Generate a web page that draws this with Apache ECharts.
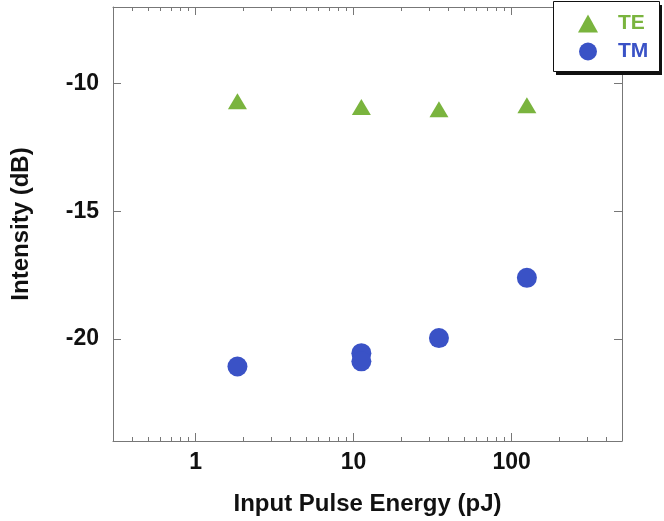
<!DOCTYPE html>
<html>
<head>
<meta charset="utf-8">
<script src="https://cdn.jsdelivr.net/npm/echarts@6/dist/echarts.min.js"></script>
<style>
  html, body { margin: 0; padding: 0; background: #fff; }
  #chart { width: 664px; height: 521px; }
</style>
</head>
<body>
<div id="chart"></div>
<script>
// 数据：输入脉冲能量 (pJ) 与强度 (dB)
var teEnergy = [1.84, 11.2, 34.7, 125];
var teIntensity = [-10.69, -10.92, -11.01, -10.85];
var tmEnergy = [1.84, 11.2, 11.2, 34.7, 125];
var tmIntensity = [-21.08, -20.56, -20.88, -19.97, -17.61];

// 刻度
var xMajor = [1, 10, 100];
var xMinor = [0.4, 0.5, 0.6, 0.7, 0.8, 0.9, 2, 3, 4, 5, 6, 7, 8, 9,
              20, 30, 40, 50, 60, 70, 80, 90, 200, 300, 400];
var yMajor = [-10, -15, -20];

var green = '#7ab43e';
var blue = '#3a52c6';
var lineColor = '#777';
var fontFamily = '"Liberation Sans", Arial, sans-serif';

function pairs(xs, ys) {
  var out = [];
  for (var i = 0; i < xs.length; i++) out.push([xs[i], ys[i]]);
  return out;
}

// 隐藏标签的辅助坐标轴（用于上边框、次刻度）
function tickAxis(position, values, len, showLine) {
  return {
    type: 'log', logBase: 10, min: 0.3, max: 500, position: position,
    axisLine: { show: showLine, lineStyle: { color: lineColor, width: 1 } },
    axisTick: { show: true, inside: true, length: len, customValues: values,
                lineStyle: { color: lineColor, width: 1 } },
    axisLabel: { show: false },
    splitLine: { show: false }
  };
}

var option = {
  backgroundColor: '#fff',
  animation: false,
  grid: { left: 113, right: 42, top: 7, bottom: 79 },
  // 图例的外框和阴影
  graphic: [
    { type: 'rect', z: 3, shape: { x: 556, y: 5, width: 106, height: 70 },
      style: { fill: '#111' } },
    { type: 'rect', z: 3, shape: { x: 553.5, y: 1.5, width: 106, height: 70 },
      style: { fill: '#fff', stroke: '#111', lineWidth: 1 } }
  ],
  legend: {
    orient: 'vertical',
    left: 553, top: 2, z: 5,
    padding: [11, 9, 11, 25],
    itemGap: 7,
    itemWidth: 20, itemHeight: 18,
    textStyle: { fontFamily: fontFamily, fontSize: 21, fontWeight: 'bold', padding: [0, 0, 0, 15] },
    data: [
      { name: 'TE', textStyle: { color: green } },
      { name: 'TM', textStyle: { color: blue } }
    ]
  },
  xAxis: [
    {
      type: 'log', logBase: 10, min: 0.3, max: 500, position: 'bottom',
      name: 'Input Pulse Energy (pJ)', nameLocation: 'middle', nameGap: 51,
      nameTextStyle: { fontFamily: fontFamily, fontSize: 24, fontWeight: 'bold', color: '#111' },
      axisLine: { show: true, lineStyle: { color: lineColor, width: 1 } },
      axisTick: { show: true, inside: true, length: 8, customValues: xMajor,
                  lineStyle: { color: lineColor, width: 1 } },
      axisLabel: { customValues: xMajor, margin: 10, fontFamily: fontFamily,
                   fontSize: 23, fontWeight: 'bold', color: '#111' },
      splitLine: { show: false }
    },
    tickAxis('bottom', xMinor, 4, false),
    tickAxis('top', xMajor, 8, true),
    tickAxis('top', xMinor, 4, false)
  ],
  yAxis: [
    {
      type: 'value', min: -24, max: -7, position: 'left',
      name: 'Intensity (dB)', nameLocation: 'middle', nameGap: 80,
      nameTextStyle: { fontFamily: fontFamily, fontSize: 24, fontWeight: 'bold', color: '#111' },
      axisLine: { show: true, lineStyle: { color: lineColor, width: 1 } },
      axisTick: { show: true, inside: true, length: 8, customValues: yMajor,
                  lineStyle: { color: lineColor, width: 1 } },
      axisLabel: { customValues: yMajor, margin: 14, fontFamily: fontFamily,
                   fontSize: 23, fontWeight: 'bold', color: '#111' },
      splitLine: { show: false }
    },
    {
      type: 'value', min: -24, max: -7, position: 'right',
      axisLine: { show: true, lineStyle: { color: lineColor, width: 1 } },
      axisTick: { show: true, inside: true, length: 8, customValues: yMajor,
                  lineStyle: { color: lineColor, width: 1 } },
      axisLabel: { show: false },
      splitLine: { show: false }
    }
  ],
  series: [
    {
      name: 'TE', type: 'scatter', xAxisIndex: 0, yAxisIndex: 0,
      symbol: 'triangle', symbolSize: [19, 16],
      itemStyle: { color: green, opacity: 1 },
      data: pairs(teEnergy, teIntensity)
    },
    {
      name: 'TM', type: 'scatter', xAxisIndex: 0, yAxisIndex: 0,
      symbol: 'circle', symbolSize: 20,
      itemStyle: { color: blue, opacity: 1 },
      data: pairs(tmEnergy, tmIntensity)
    }
  ]
};

var chart = echarts.init(document.getElementById('chart'), null, { renderer: 'canvas' });
chart.setOption(option);
</script>
</body>
</html>
